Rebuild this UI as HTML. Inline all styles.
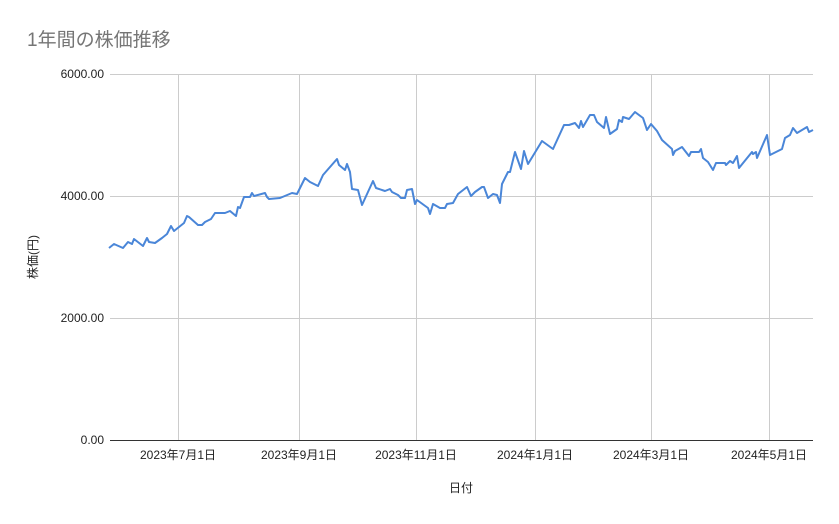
<!DOCTYPE html>
<html><head><meta charset="utf-8"><style>
body{margin:0;background:#fff;}
svg text{font-family:"Liberation Sans","Noto Sans CJK JP",sans-serif;}
</style></head><body>
<svg width="839" height="519" viewBox="0 0 839 519" xmlns="http://www.w3.org/2000/svg">
<rect width="839" height="519" fill="#fff"/>
<text x="27" y="46" font-size="19" fill="#757575">1年間の株価推移</text>
<g stroke="#cccccc" stroke-width="1">
<line x1="110" y1="74.5" x2="813" y2="74.5"/>
<line x1="110" y1="196.5" x2="813" y2="196.5"/>
<line x1="110" y1="318.5" x2="813" y2="318.5"/>
<line x1="178.5" y1="74" x2="178.5" y2="440"/>
<line x1="299.5" y1="74" x2="299.5" y2="440"/>
<line x1="416.5" y1="74" x2="416.5" y2="440"/>
<line x1="535.5" y1="74" x2="535.5" y2="440"/>
<line x1="651.5" y1="74" x2="651.5" y2="440"/>
<line x1="769.5" y1="74" x2="769.5" y2="440"/>
</g>
<line x1="110" y1="440.5" x2="813" y2="440.5" stroke="#333" stroke-width="1"/>
<g font-size="12" fill="#222" text-anchor="end">
<text x="104" y="78">6000.00</text>
<text x="104" y="200">4000.00</text>
<text x="104" y="322">2000.00</text>
<text x="104" y="444">0.00</text>
</g>
<g font-size="12" fill="#222" text-anchor="middle">
<text x="178" y="459">2023年7月1日</text>
<text x="299" y="459">2023年9月1日</text>
<text x="416" y="459">2023年11月1日</text>
<text x="535" y="459">2024年1月1日</text>
<text x="651" y="459">2024年3月1日</text>
<text x="769" y="459">2024年5月1日</text>
<text x="461" y="492">日付</text>
</g>
<text transform="translate(37,257) rotate(-90)" font-size="12" fill="#222" text-anchor="middle">株価(円)</text>
<polyline fill="none" stroke="#4a86d8" stroke-width="2" stroke-linejoin="round" points="109,248 114,244 123,248 128,242 132,244 134,239 143,246 147,238 149,242 155,243 162,238 167,234 171,226 174,231 184,223 187,216 189,217 198,225 202,225 205,222 211,219 215,213 225,213 230,211 236,216 238,207 240,208 244,197 250,197 252,193 254,196 265,193 267,197 269,199 280,198 292,193 297,194 305,178 310,182 318,186 323,175 337,159 339,165 345,170 347,164 350,172 352,189 358,190 362,205 373,181 376,188 385,191 390,189 392,192 398,195 401,198 405,198 407,190 412,189 415,204 417,200 428,208 430,214 433,204 440,208 445,208 447,204 453,203 458,194 467,187 471,196 475,192 482,187 484,187 488,198 493,194 497,195 500,203 502,184 508,172 510,172 515,152 521,169 524,151 528,164 542,141 553,149 564,125 569,125 575,123 579,128 581,121 583,127 590,115 594,115 597,122 604,128 606,117 610,134 617,129 619,120 622,122 623,117 629,119 635,112 643,118 647,130 651,124 657,131 662,140 672,149 673,155 675,151 682,147 689,156 691,152 699,152 701,149 703,158 708,162 713,170 716,163 725,163 726,165 730,161 733,163 737,156 739,168 752,152 753,154 756,152 757,158 767,135 770,155 782,149 785,138 790,135 793,128 797,133 807,127 809,132 813,130"/>
</svg>
</body></html>
